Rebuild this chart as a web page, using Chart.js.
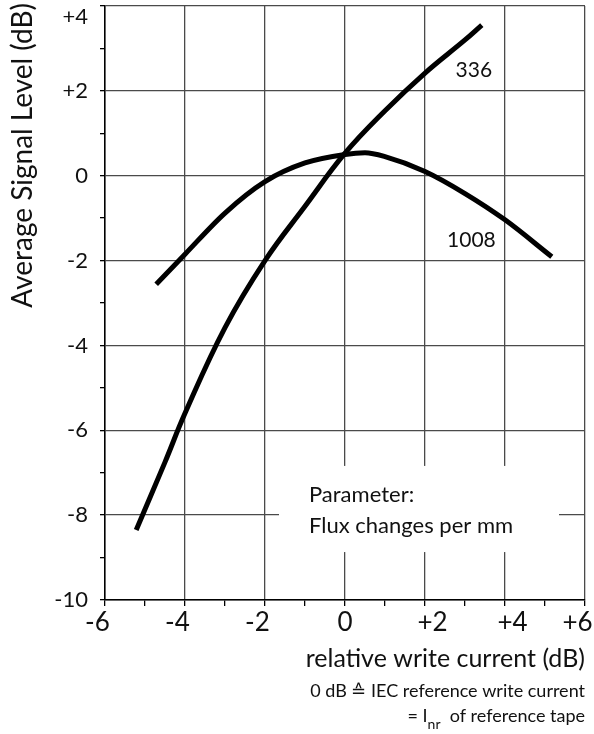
<!DOCTYPE html>
<html>
<head>
<meta charset="utf-8">
<script src="https://cdn.jsdelivr.net/npm/chart.js@4"></script>
<style>
  html, body { margin: 0; padding: 0; background: #fff; }
  #wrap { width: 594px; height: 734px; }
</style>
</head>
<body>
<div id="wrap"><canvas id="signalChart" width="594" height="734"></canvas></div>
<script>
// write current (dB) and average signal level (dB)
var x336 = [-5.22, -4.5, -4, -3, -2, -1, 0, 1, 2, 3, 3.42];
var y336 = [-8.35, -6.75, -5.6, -3.58, -2, -0.72, 0.53, 1.53, 2.42, 3.2, 3.55];
var x1008 = [-4.72, -4, -3, -2, -1, 0, 0.5, 1, 2, 3, 4, 5.17];
var y1008 = [-2.56, -1.85, -0.88, -0.14, 0.3, 0.5, 0.54, 0.45, 0.1, -0.42, -1.04, -1.91];
var seriesNames = ['336', '1008'];
var labelPos = [[3.22, 2.49], [3.16, -1.51]];
var xTicks = [-6, -4, -2, 0, 2, 4, 6];
var yTicks = [-10, -8, -6, -4, -2, 0, 2, 4];

var font = 'Lato, "Noto Sans", sans-serif';
var FS = '\u2007'; // figure space, nudges a tick label sideways

var toPoints = function (xs, ys) {
    return xs.map(function (x, i) { return { x: x, y: ys[i] }; });
}

var signed = function (v) {
    return v > 0 ? '+' + v : '' + v;
}

var isMinor = function (ctx) {
    return ctx.tick && Math.abs(ctx.tick.value % 2) === 1;
}

var xLabel = function (v) {
    if (xTicks.indexOf(v) < 0) return '';
    if (v < 0 || v === 6) return signed(v) + FS;
    if (v > 0) return FS + signed(v);
    return signed(v);
}

var extras = {
    id: 'extras',
    beforeDatasetsDraw: function (chart) {
        var c = chart.ctx, xs = chart.scales.x, ys = chart.scales.y;
        // blank panel behind the parameter note
        var l = xs.getPixelForValue(-1.65), r = xs.getPixelForValue(5.35);
        var t = ys.getPixelForValue(-6.84), b = ys.getPixelForValue(-8.87);
        c.save();
        c.fillStyle = '#fff';
        c.fillRect(l, t, r - l, b - t);
        c.fillStyle = '#111';
        c.font = '22px ' + font;
        c.textBaseline = 'alphabetic';
        c.fillText('Parameter:', l + 30, ys.getPixelForValue(-7.69));
        c.fillText('Flux changes per mm', l + 30, ys.getPixelForValue(-8.41));
        c.restore();
    },
    afterDraw: function (chart) {
        var c = chart.ctx, xs = chart.scales.x, ys = chart.scales.y;
        var right = chart.chartArea.right;
        c.save();
        c.fillStyle = '#111';
        c.textBaseline = 'middle';
        c.textAlign = 'center';
        c.font = '21px ' + font;
        seriesNames.forEach(function (name, i) {
            c.fillText(name, xs.getPixelForValue(labelPos[i][0]), ys.getPixelForValue(labelPos[i][1]));
        });

        // top y label sits just under its tick so it stays on the page
        c.textAlign = 'right';
        c.font = '22px ' + font;
        c.fillText(signed(yTicks[yTicks.length - 1]), xs.left - 17, ys.getPixelForValue(yTicks[yTicks.length - 1]) + 11);

        // axis titles and notes
        c.textBaseline = 'alphabetic';
        c.font = '25px ' + font;
        c.fillText('relative write current (dB)', right, 667);
        c.font = '18px ' + font;
        c.fillText('0 dB \u2259 IEC reference write current', right, 697);
        var tail = '  of reference tape';
        var tw = c.measureText(tail).width;
        c.fillText(tail, right, 722);
        c.font = '14px ' + font;
        var sw = c.measureText('nr').width;
        c.fillText('nr', right - tw, 729);
        c.font = '18px ' + font;
        c.fillText('= I', right - tw - sw, 722);

        c.translate(32, 3);
        c.rotate(-Math.PI / 2);
        c.textAlign = 'right';
        c.font = '28px ' + font;
        c.fillText('Average Signal Level (dB)', 0, 0);
        c.restore();
    }
};

new Chart("signalChart", {
    type: "line",
    data: {
        datasets: [{
            label: seriesNames[0],
            data: toPoints(x336, y336),
            borderColor: "#000",
            borderWidth: 5,
            borderCapStyle: 'butt',
            pointRadius: 0,
            tension: 0.4,
            fill: false
        }, {
            label: seriesNames[1],
            data: toPoints(x1008, y1008),
            borderColor: "#000",
            borderWidth: 5,
            borderCapStyle: 'butt',
            pointRadius: 0,
            cubicInterpolationMode: 'monotone',
            fill: false
        }]
    },
    options: {
        responsive: false,
        animation: false,
        events: [],
        layout: { padding: { top: 6, right: 9, left: 0, bottom: 0 } },
        plugins: {
            legend: { display: false },
            tooltip: { enabled: false }
        },
        scales: {
            x: {
                type: 'linear',
                min: xTicks[0],
                max: xTicks[xTicks.length - 1],
                afterBuildTicks: function (scale) {
                    var t = [];
                    for (var v = scale.min; v <= scale.max; v++) t.push({ value: v });
                    scale.ticks = t;
                },
                afterFit: function (scale) {
                    scale.height = 134;
                    scale.paddingLeft = 0;
                    scale.paddingRight = 0;
                },
                ticks: {
                    autoSkip: false,
                    maxRotation: 0,
                    padding: 1,
                    color: '#111',
                    font: { family: font, size: 26 },
                    callback: xLabel
                },
                grid: {
                    color: function (ctx) { return isMinor(ctx) ? 'rgba(0,0,0,0)' : '#4a4a4a'; },
                    tickColor: '#000',
                    lineWidth: 1.3,
                    tickLength: 6
                },
                border: { color: '#000', width: 1.5 }
            },
            y: {
                type: 'linear',
                min: yTicks[0],
                max: yTicks[yTicks.length - 1],
                afterBuildTicks: function (scale) {
                    var t = [];
                    for (var v = scale.min; v <= scale.max; v++) t.push({ value: v });
                    scale.ticks = t;
                },
                afterFit: function (scale) {
                    scale.width = 105;
                    scale.paddingTop = 0;
                    scale.paddingBottom = 0;
                },
                ticks: {
                    autoSkip: false,
                    padding: 12,
                    color: '#111',
                    font: { family: font, size: 22 },
                    callback: function (v) {
                        if (v === yTicks[yTicks.length - 1]) return '';
                        return yTicks.indexOf(v) >= 0 ? signed(v) : '';
                    }
                },
                grid: {
                    color: function (ctx) { return isMinor(ctx) ? 'rgba(0,0,0,0)' : '#4a4a4a'; },
                    tickColor: '#000',
                    lineWidth: 1.3,
                    tickLength: 5
                },
                border: { color: '#000', width: 1.5 }
            }
        }
    },
    plugins: [extras]
});
</script>
</body>
</html>
